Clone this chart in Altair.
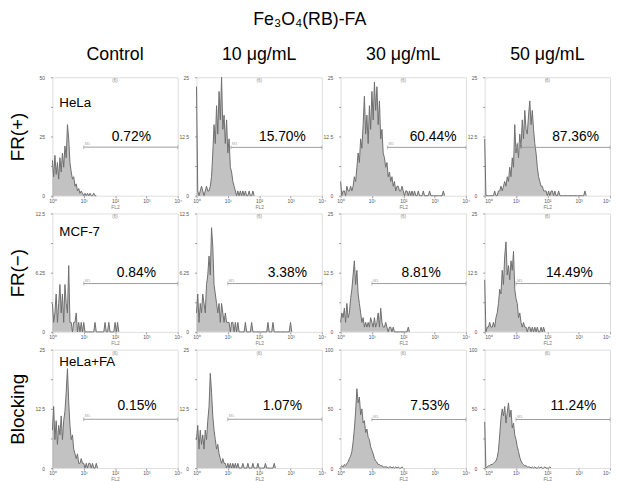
import altair as alt
import pandas as pd

# ---------------- data ----------------
step = 0.04  # histogram channel width, in decades of FL2

row_names = ["FR(+)", "FR(−)", "Blocking"]
col_names = ["Control", "10 μg/mL", "30 μg/mL", "50 μg/mL"]
cell_lines = ["HeLa", "MCF-7", "HeLa+FA"]
percents = [
    ["0.72%", "15.70%", "60.44%", "87.36%"],
    ["0.84%", "3.38%", "8.81%", "14.49%"],
    ["0.15%", "1.07%", "7.53%", "11.24%"],
]
y_max = [[50, 25, 25, 25], [12.5, 12.5, 25, 25], [25, 25, 100, 100]]
gate_start = [[1.0, 1.1, 1.5, 1.0], [1.0, 1.0, 1.0, 1.0], [1.0, 1.0, 1.0, 1.0]]
gate_end = 4
gate_level = [[20.5, 10.2, 10.2, 10.2], [5.1, 5.1, 10.2, 10.2], [10.3, 10.3, 41, 41]]
x_ticks = [0, 1, 2, 3, 4]
x_tick_labels = ["10⁰", "10¹", "10²", "10³", "10⁴"]

hela_control = [15, 8, 17, 9, 14, 7, 16, 10, 18, 12,
                21, 16, 30, 24, 14, 10, 7, 8, 4, 5,
                2, 3, 1, 2, 1, 0, 1, 0, 1, 0,
                1, 0, 0, 1, 0, 0]
hela_10 = [23, 1, 0, 1, 2, 1, 0, 1, 2, 1,
           1, 2, 4, 9, 15, 11, 19, 13, 22, 16,
           25, 14, 17, 11, 16, 9, 12, 6, 5, 3,
           2, 1, 0, 1, 0, 1, 0, 1, 0, 1,
           0, 0, 1, 0, 0, 1, 0]
hela_30 = [3, 0, 1, 1, 0, 2, 1, 1, 2, 1,
           2, 4, 3, 6, 9, 7, 12, 10, 15, 21,
           13, 17, 11, 19, 14, 22, 16, 24, 18, 23,
           15, 20, 12, 14, 9, 8, 6, 7, 4, 5,
           3, 4, 2, 3, 1, 2, 2, 1, 1, 2,
           1, 0, 1, 1, 0, 1, 0, 1, 0, 1,
           0, 0, 1, 0, 0, 0, 1, 0, 0, 0,
           0, 1, 0, 0, 0, 0, 0, 0, 0, 0,
           0, 0, 1, 0]
hela_50 = [12, 0, 0, 0, 0, 0, 0, 0, 1, 0,
           0, 1, 1, 2, 1, 2, 3, 2, 4, 3,
           6, 4, 8, 6, 15, 9, 11, 8, 13, 10,
           16, 12, 18, 14, 13, 17, 20, 15, 18, 14,
           11, 9, 6, 4, 3, 2, 2, 1, 1, 1,
           0, 1, 0, 1, 1, 0, 1, 0, 0, 1,
           0, 0, 0, 0, 0, 0, 0, 0, 0, 0,
           0, 0, 0, 0, 0, 0, 0, 0, 0, 0,
           1, 0]
mcf7_control = [3, 1, 2, 4, 1, 3, 5, 2, 4, 1,
                5, 3, 2, 7, 1, 1, 0, 1, 1, 2,
                0, 1, 0, 1, 0, 1, 0, 0, 0, 0,
                0, 0, 0, 0, 1, 0, 0, 0, 0, 0,
                0, 0, 1, 0, 0, 1, 0, 0, 0, 0,
                1, 0, 1, 0]
mcf7_10 = [2, 4, 1, 3, 2, 4, 3, 2, 5, 6,
           8, 6, 11, 9, 5, 4, 3, 2, 3, 1,
           3, 2, 1, 2, 1, 1, 1, 0, 1, 1,
           0, 1, 0, 1, 0, 0, 0, 0, 0, 1,
           0, 0, 0, 0, 1, 0, 0, 0, 0, 0,
           0, 0, 0, 0, 0, 0, 0, 1, 0, 0,
           0, 1, 0, 0, 0, 0, 0, 0, 0, 0,
           0, 0, 0, 0, 0, 1, 0]
mcf7_30 = [2, 4, 3, 5, 2, 6, 3, 4, 7, 9,
           12, 15, 10, 13, 8, 6, 4, 2, 3, 1,
           2, 1, 2, 1, 3, 2, 1, 3, 1, 2,
           4, 1, 5, 2, 1, 1, 2, 1, 0, 1,
           1, 0, 1, 0, 0, 0, 0, 0, 0, 0,
           0, 0, 0, 0, 1, 0]
mcf7_50 = [11, 0, 1, 1, 2, 1, 1, 2, 1, 3,
           4, 6, 9, 8, 13, 10, 16, 19, 12, 14,
           11, 15, 13, 17, 9, 7, 6, 3, 4, 2,
           1, 2, 1, 1, 0, 1, 1, 0, 1, 0,
           1, 0, 1, 0, 0, 1, 0, 1, 0]
helafa_control = [8, 13, 6, 10, 5, 9, 7, 11, 6, 10,
                  12, 16, 21, 14, 9, 6, 7, 4, 3, 2,
                  3, 1, 1, 2, 1, 1, 0, 1, 0, 1,
                  1, 0, 1, 0, 0, 1, 0]
helafa_10 = [6, 9, 4, 8, 5, 7, 4, 8, 6, 10,
             13, 20, 16, 11, 8, 6, 4, 5, 3, 2,
             1, 2, 1, 1, 0, 1, 0, 1, 0, 1,
             0, 1, 0, 1, 0, 0, 0, 1, 0, 0,
             0, 1, 0, 0, 0, 1, 0, 0, 0, 1,
             0, 0, 0, 0, 0, 1, 0, 0, 0, 0,
             0, 0, 1, 0]
helafa_30 = [1, 2, 1, 3, 2, 4, 5, 8, 10, 14,
             22, 33, 48, 67, 55, 60, 45, 50, 38, 40,
             30, 33, 26, 24, 18, 15, 12, 8, 6, 5,
             3, 3, 2, 2, 1, 1, 1, 1, 0, 1,
             1, 0, 1, 0, 1, 0, 1, 0, 0, 1, 0]
helafa_50 = [39, 0, 1, 2, 2, 3, 3, 4, 5, 6,
             9, 15, 28, 42, 50, 44, 52, 38, 47, 55,
             43, 49, 34, 38, 28, 24, 18, 14, 9, 6,
             4, 3, 2, 2, 1, 1, 1, 0, 1, 0,
             1, 0, 0, 1, 0, 1, 0, 0, 1, 0,
             0, 0, 1, 0]

histograms = [
    [hela_control, hela_10, hela_30, hela_50],
    [mcf7_control, mcf7_10, mcf7_30, mcf7_50],
    [helafa_control, helafa_10, helafa_30, helafa_50],
]

# annotation placement (data units / fractions of the y range)
pct_x = [[2.52, 2.74, 2.95, 2.9], [2.68, 2.9, 2.57, 2.7], [2.7, 2.74, 2.85, 2.83]]
pct_frac = [0.46, 0.46, 0.49]
cell_frac = [0.75, 0.81, 0.86]

# ---------------- chart ----------------
FONT = "Liberation Sans"
W, H = 127, 120
LINE = "#6e6e6e"
FILL = "#8f8f8f"
FRAME = "#a3a3a3"
GATE = "#9c9c9c"

label_js = "[" + ",".join("'%s'" % t for t in x_tick_labels) + "][datum.value]"


def panel(r, c):
    vals = histograms[r][c]
    ym = y_max[r][c]
    df = pd.DataFrame({"fl2": [i * step for i in range(len(vals))], "count": vals})
    xs = alt.Scale(domain=[0, 4], nice=False, zero=False)
    ys = alt.Scale(domain=[0, ym], nice=False)

    xaxis = alt.Axis(
        values=x_ticks,
        labelExpr=label_js,
        labelFontSize=5, labelColor="#555", labelFont=FONT, labelPadding=1,
        labelFlush=(c == 3), labelOverlap=False,
        tickSize=2, tickColor="#999", domain=False, grid=False,
        titleFontSize=5, titleFontWeight="normal", titleColor="#777",
        titleFont=FONT, titlePadding=1,
    )
    half = ym / 2
    yaxis_kw = dict(
        values=[ym * k / 4 for k in range(5)],
        labelExpr=f"(datum.value == 0 || datum.value == {half} || datum.value == {ym}) ? ('' + datum.value) : ''",
        labelFontSize=5, labelColor="#555", labelFont=FONT, labelPadding=6,
        labelOverlap=False,
        tickSize=2, tickColor="#999", domain=False, grid=False,
    )
    if c == 0:
        yaxis_kw.update(
            titleX=-35, titleY=H / 2, titleAngle=270, titleAlign="center",
            titleBaseline="middle", titleFontSize=19, titleFont=FONT,
            titleFontWeight="normal", titleColor="black",
        )
        ytitle = row_names[r]
    else:
        ytitle = None
    yaxis = alt.Axis(**yaxis_kw)

    def X(field):
        return alt.X(field, scale=xs, axis=xaxis, title="FL2")

    def Y(field):
        return alt.Y(field, scale=ys, axis=yaxis, title=ytitle)

    area = alt.Chart(df).mark_area(color=FILL, opacity=0.55).encode(x=X("fl2:Q"), y=Y("count:Q"))
    line = alt.Chart(df).mark_line(color=LINE, strokeWidth=1).encode(x=X("fl2:Q"), y=Y("count:Q"))

    gdf = pd.DataFrame({"x": [gate_start[r][c]], "x2": [gate_end], "y": [gate_level[r][c]], "t": ["M1"]})
    gate = alt.Chart(gdf).mark_rule(color=GATE, strokeWidth=1).encode(
        x=X("x:Q"), x2="x2:Q", y=Y("y:Q")
    )
    cdf_caps = pd.DataFrame({"x": [gate_start[r][c], gate_end], "y": [gate_level[r][c]] * 2})
    caps = alt.Chart(cdf_caps).mark_tick(
        color=GATE, orient="vertical", size=4, thickness=1
    ).encode(x=X("x:Q"), y=Y("y:Q"))
    gate_lbl = alt.Chart(gdf).mark_text(
        fontSize=4, color="#aaa", font=FONT, align="left", baseline="bottom", dx=1, dy=-1
    ).encode(x=X("x:Q"), y=Y("y:Q"), text="t:N")

    pdf = pd.DataFrame({"x": [pct_x[r][c]], "y": [pct_frac[r] * ym], "t": [percents[r][c]]})
    pct = alt.Chart(pdf).mark_text(
        fontSize=14, font=FONT, color="black", align="center", baseline="alphabetic"
    ).encode(x=X("x:Q"), y=Y("y:Q"), text="t:N")

    tdf = pd.DataFrame({"x": [2], "y": [ym], "t": ["(6)"]})
    top = alt.Chart(tdf).mark_text(
        fontSize=4.5, font=FONT, color="#888", align="center", baseline="top", dy=1
    ).encode(x=X("x:Q"), y=Y("y:Q"), text="t:N")

    layers = [area, line, gate, caps, gate_lbl, pct, top]
    if c == 0:
        cdf = pd.DataFrame({"x": [0.22], "y": [cell_frac[r] * ym], "t": [cell_lines[r]]})
        cell = alt.Chart(cdf).mark_text(
            fontSize=13.5, font=FONT, color="black", align="left", baseline="alphabetic"
        ).encode(x=X("x:Q"), y=Y("y:Q"), text="t:N")
        layers.append(cell)

    props = dict(width=W, height=H)
    if r == 0:
        props["title"] = alt.TitleParams(
            col_names[c], fontSize=18, font=FONT, fontWeight="normal",
            color="black", offset=11, anchor="middle",
        )
    return alt.layer(*layers).properties(**props)


panels = [panel(r, c) for r in range(3) for c in range(4)]

chart = alt.concat(
    *panels,
    columns=4,
    spacing={"row": 18, "column": 19},
    bounds="flush",
    title=alt.TitleParams(
        "Fe₃O₄(RB)-FA", fontSize=18, font=FONT, fontWeight="normal",
        color="black", anchor="middle", offset=17,
    ),
).configure_view(
    stroke=FRAME, strokeWidth=1
).configure(padding=0, background="white")

chart.save("out.html", embed_options={"renderer": "svg", "actions": False})
